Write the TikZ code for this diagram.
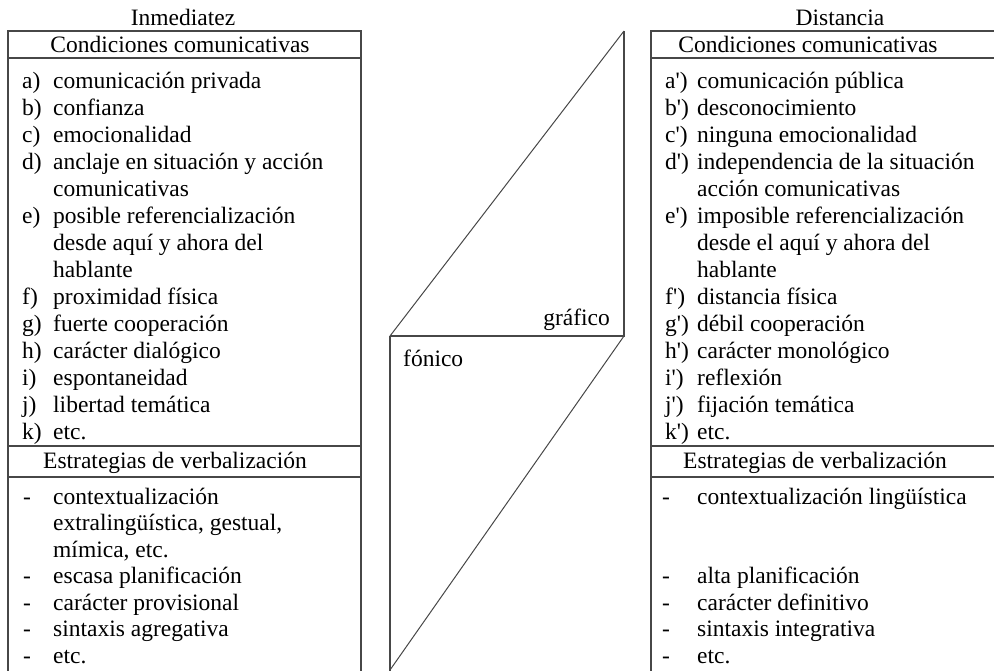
\documentclass[tikz,border=0pt]{standalone}
\usepackage{fontspec}
\newfontfamily\lib{Liberation Serif}
\tikzset{
  frame/.style={draw=black!72, line width=1.4pt},
  diag/.style={draw=black!72, line width=1pt},
  txt/.style={inner sep=0pt, anchor=base west, font=\lib\fontsize{23.5}{27}\selectfont},
  ctxt/.style={inner sep=0pt, anchor=base, font=\lib\fontsize{23.5}{27}\selectfont},
  rtxt/.style={inner sep=0pt, anchor=base east, font=\lib\fontsize{23.5}{27}\selectfont},
}
\begin{document}
\begin{tikzpicture}[x=1pt,y=-1pt]
\useasboundingbox (0,0) rectangle (994,670);
\clip (0,0) rectangle (994,670);
% ---------- left box ----------
\draw[frame] (8,680) -- (8,31) -- (361,31) -- (361,680);
\draw[frame] (8,58) -- (361,58);
\draw[frame] (8,446) -- (361,446);
\draw[frame] (8,477) -- (361,477);
\node[ctxt] (inm) at (183,25) {Inmediatez};
\node[ctxt] (condL) at (180,52) {Condiciones comunicativas};
\node[ctxt] (estL) at (175,468) {Estrategias de verbalización};
\foreach \r/\lab/\t in {
  0/a)/comunicación privada,
  1/b)/confianza,
  2/c)/emocionalidad,
  3/d)/anclaje en situación y acción,
  4//comunicativas,
  5/e)/posible referencialización,
  6//desde aquí y ahora del,
  7//hablante,
  8/f)/proximidad física,
  9/g)/fuerte cooperación,
  10/h)/carácter dialógico,
  11/i)/espontaneidad,
  12/j)/libertad temática,
  13/k)/etc.}{
  \node[txt] (ll\r) at (22,{88+27*\r}) {\lab};
  \node[txt] (lt\r) at (53,{88+27*\r}) {\t};
}
\foreach \r/\lab/\t in {
  0/-/contextualización,
  1//{extralingüística, gestual,},
  2//{mímica, etc.},
  3/-/escasa planificación,
  4/-/carácter provisional,
  5/-/sintaxis agregativa,
  6/-/etc.}{
  \node[txt] (ld\r) at (23,{504+26.5*\r}) {\lab};
  \node[txt] (ls\r) at (53,{504+26.5*\r}) {\t};
}
% ---------- right box ----------
\draw[frame] (651,680) -- (651,31) -- (1000,31);
\draw[frame] (651,58) -- (1000,58);
\draw[frame] (651,446) -- (1000,446);
\draw[frame] (651,477) -- (1000,477);
\node[ctxt] (dist) at (840,25) {Distancia};
\node[ctxt] (condR) at (808,52) {Condiciones comunicativas};
\node[ctxt] (estR) at (815,468) {Estrategias de verbalización};
\foreach \r/\lab/\t in {
  0/a')/comunicación pública,
  1/b')/desconocimiento,
  2/c')/ninguna emocionalidad,
  3/d')/independencia de la situación,
  4//acción comunicativas,
  5/e')/imposible referencialización,
  6//desde el aquí y ahora del,
  7//hablante,
  8/f')/distancia física,
  9/g')/débil cooperación,
  10/h')/carácter monológico,
  11/i')/reflexión,
  12/j')/fijación temática,
  13/k')/etc.}{
  \node[txt] (rl\r) at (665,{88+27*\r}) {\lab};
  \node[txt] (rt\r) at (697,{88+27*\r}) {\t};
}
\foreach \r/\lab/\t in {
  0/-/contextualización lingüística,
  3/-/alta planificación,
  4/-/carácter definitivo,
  5/-/sintaxis integrativa,
  6/-/etc.}{
  \node[txt] (rd\r) at (662,{504+26.5*\r}) {\lab};
  \node[txt] (rs\r) at (697,{504+26.5*\r}) {\t};
}
% ---------- middle figure ----------
\coordinate (T) at (624,31);
\coordinate (M) at (624,336);
\coordinate (P) at (390,336);
\coordinate (B) at (390,670);
\coordinate (Bv) at (390,680);
\draw[frame] (P) -- (M) -- (T);
\draw[frame] (P) -- (Bv);
\draw[diag] (P) -- (T);
\draw[diag] (M) -- (B);
\node[rtxt] (graf) at (610,325) {gráfico};
\node[txt] (fon) at (403,366) {fónico};
\end{tikzpicture}
\end{document}
